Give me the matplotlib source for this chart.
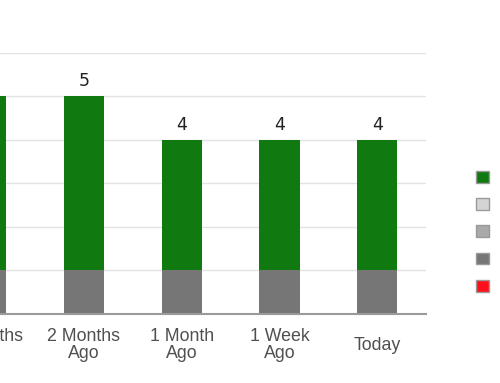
import matplotlib
matplotlib.use("Agg")
import matplotlib.pyplot as plt
from matplotlib.patches import Patch

categories = ["3 Months\nAgo", "2 Months\nAgo", "1 Month\nAgo", "1 Week\nAgo", "Today"]
series_names = ["", "", "", "", ""]
green = [4, 4, 3, 3, 3]
light_gray = [0, 0, 0, 0, 0]
mid_gray = [0, 0, 0, 0, 0]
dark_gray = [1, 1, 1, 1, 1]
red = [0, 0, 0, 0, 0]
colors = ["#107a10", "#d4d4d4", "#a9a9a9", "#767676", "#ff0f1a"]
y_max = 6

W, H = 500, 383
fig = plt.figure(figsize=(W / 100, H / 100), dpi=100)
slot = 97.8
right_px = 426.2
left_px = right_px - slot * len(categories)
ax = fig.add_axes([left_px / W, (H - 313.5) / H, (right_px - left_px) / W, (313.5 - 53) / H])

x = list(range(len(categories)))
# stacking order: bottom-up is reverse of legend order
stack = [(red, colors[4]), (dark_gray, colors[3]), (mid_gray, colors[2]),
         (light_gray, colors[1]), (green, colors[0])]
bottom = [0] * len(categories)
for vals, c in stack:
    ax.bar(x, vals, bottom=bottom, width=0.41, color=c, linewidth=0, zorder=3)
    bottom = [b + v for b, v in zip(bottom, vals)]

totals = bottom
for xi, t in zip(x, totals):
    ax.annotate(str(t), (xi, t), xytext=(0, 4.5), textcoords="offset points",
                ha="center", va="bottom", fontsize=12.5, color="#222222",
                family="DejaVu Sans")

ax.set_xlim(-0.5, len(categories) - 0.5)
ax.set_ylim(0, y_max)
ax.set_yticks(range(1, y_max + 1))
ax.yaxis.grid(True, color="#e3e3e3", linewidth=1, zorder=0)
ax.set_yticklabels([])
ax.tick_params(axis="y", length=0)
ax.set_xticks(x)
ax.set_xticklabels(categories, fontsize=12.8, color="#505050",
                   family="Liberation Sans", va="center", linespacing=1.0)
ax.tick_params(axis="x", length=0, pad=23)
for s in ["top", "left", "right"]:
    ax.spines[s].set_visible(False)
ax.spines["bottom"].set_color("#9a9a9a")
ax.spines["bottom"].set_linewidth(1.5)
ax.spines["bottom"].set_zorder(4)

handles = [Patch(facecolor=c, edgecolor="#999999", linewidth=1) for c in colors]
fig.legend(handles, series_names, loc="center left",
           bbox_to_anchor=(476 / W, (H - 232) / H), frameon=False,
           fontsize=9.5, handlelength=1.0, handleheight=1.0,
           labelspacing=1.05, borderpad=0, borderaxespad=0, handletextpad=0.3)

fig.savefig("out.png", dpi=100)
